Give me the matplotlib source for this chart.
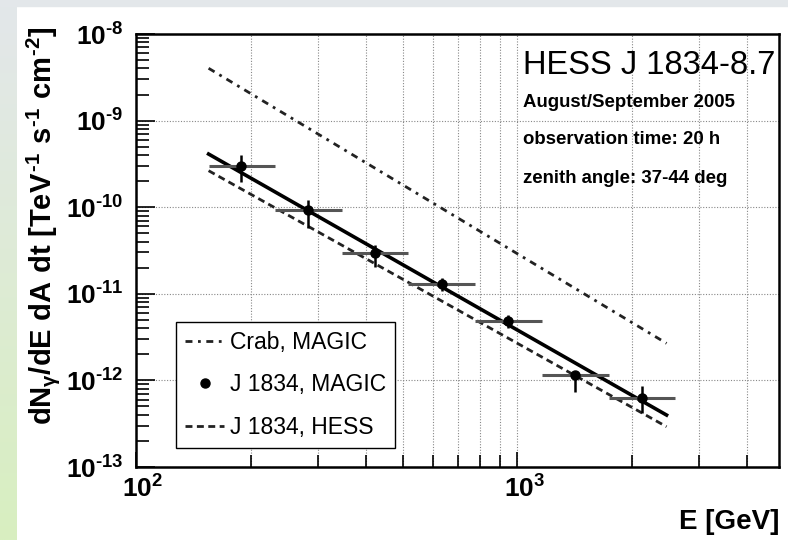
import numpy as np
import matplotlib
matplotlib.use('agg')
import matplotlib.pyplot as plt
import matplotlib.transforms as mtransforms
from matplotlib.ticker import FuncFormatter, LogLocator, NullFormatter
from matplotlib.patches import Rectangle

plt.rcParams['font.family'] = ['Liberation Sans', 'DejaVu Sans']
plt.rcParams['mathtext.fontset'] = 'custom'
plt.rcParams['mathtext.rm'] = 'Liberation Sans:bold'
plt.rcParams['mathtext.bf'] = 'Liberation Sans:bold'
plt.rcParams['mathtext.it'] = 'Liberation Sans:bold'

# MAGIC spectral points of J 1834 (GeV, TeV^-1 s^-1 cm^-2)
energy = [188, 282, 424, 634, 942, 1417, 2119]
e_low = [155, 232, 346, 518, 775, 1159, 1735]
e_high = [232, 346, 518, 775, 1159, 1735, 2595]
flux = [2.99e-10, 9.3e-11, 2.94e-11, 1.30e-11, 4.85e-12, 1.15e-12, 6.3e-13]
flux_hi = [4.0e-10, 1.21e-10, 3.66e-11, 1.52e-11, 5.69e-12, 1.26e-12, 8.6e-13]
flux_lo = [1.97e-10, 5.75e-11, 2.06e-11, 1.09e-11, 4.03e-12, 7.4e-13, 4.2e-13]

# power-law spectra, flux at the two ends of the drawn range
line_e = [155, 2460]
crab_magic = [4.02e-9, 2.68e-12]
j1834_fit = [4.11e-10, 3.98e-13]
j1834_hess = [2.64e-10, 2.92e-13]

W, H = 788, 540
fig = plt.figure(figsize=(W / 100, H / 100), dpi=100)
fig.patch.set_facecolor('white')

# slide border: grey strip on top, grey-to-green strip on the left
fig.patches.append(Rectangle((0, 1 - 6 / H), 1, 6 / H, transform=fig.transFigure,
                             color='#e3e7ea', zorder=0))
bg = fig.add_axes([0, 0, 17 / W, 1 - 6 / H])
grad = np.linspace(0, 1, 256)[:, None, None]
top_c = np.array([0xe3, 0xe7, 0xea]) / 255
bot_c = np.array([0xd8, 0xef, 0xc0]) / 255
bg.imshow(top_c * (1 - grad) + bot_c * grad, aspect='auto')
bg.axis('off')

x0, x1, y0, y1 = 136, 779, 34, 467
ax = fig.add_axes([x0 / W, 1 - y1 / H, (x1 - x0) / W, (y1 - y0) / H])
ax.set_xscale('log')
ax.set_yscale('log')
ax.set_xlim(100, 4850)
ax.set_ylim(1e-13, 1e-8)

ax.yaxis.set_major_locator(LogLocator(base=10, numticks=20))
ax.yaxis.set_minor_locator(LogLocator(base=10, subs=np.arange(2, 10), numticks=20))
ax.yaxis.set_minor_formatter(NullFormatter())
ax.xaxis.set_minor_formatter(NullFormatter())
fmt = FuncFormatter(lambda v, p: r'$10^{\text{%d}}$' % int(round(np.log10(v))))
ax.xaxis.set_major_formatter(fmt)
ax.yaxis.set_major_formatter(fmt)

ax.grid(True, which='both', axis='x', ls=(0, (1, 1.5)), color='#888888', lw=0.8)
ax.grid(True, which='major', axis='y', ls=(0, (1, 1.5)), color='#888888', lw=0.8)

ax.tick_params(which='both', direction='in', top=False, right=False, width=1.2,
               colors='black', labelsize=19)
ax.tick_params(axis='y', which='major', length=14, pad=9)
ax.tick_params(axis='y', which='minor', length=9)
ax.tick_params(axis='x', which='major', length=11, pad=6)
ax.tick_params(axis='x', which='minor', length=9)
for s in ax.spines.values():
    s.set_linewidth(1.8)

# spectra
ax.plot(line_e, crab_magic, color='#222222', lw=2.0, ls=(0, (2.5, 2, 1, 2)),
        label='Crab, MAGIC')
ax.plot(line_e, j1834_fit, color='black', lw=2.6)
ax.plot(line_e, j1834_hess, color='#222222', lw=2.0, ls=(0, (2.5, 1.6)),
        label='J 1834, HESS')

# data points with energy bins and flux errors
flux_a = np.array(flux)
en_a = np.array(energy)
ax.errorbar(energy, flux, xerr=[en_a - np.array(e_low), np.array(e_high) - en_a],
            fmt='none', ecolor='#555555', elinewidth=2.2, capsize=0)
ax.errorbar(energy, flux, yerr=[flux_a - np.array(flux_lo), np.array(flux_hi) - flux_a],
            fmt='none', ecolor='black', elinewidth=1.8, capsize=0)
ax.plot(energy, flux, 'o', color='black', ms=6.5, label='J 1834, MAGIC')

h, l = ax.get_legend_handles_labels()
order = [l.index('Crab, MAGIC'), l.index('J 1834, MAGIC'), l.index('J 1834, HESS')]
leg = ax.legend([h[i] for i in order], [l[i] for i in order], loc='lower left',
                bbox_to_anchor=((176 - x0) / (x1 - x0), (y1 - 448) / (y1 - y0)),
                borderaxespad=0, fontsize=16.5, fancybox=False, framealpha=1,
                edgecolor='black', handlelength=1.7, handletextpad=0.25,
                labelspacing=0.85, borderpad=0.4)
leg.get_frame().set_linewidth(1.0)

ax.set_xlabel('E [GeV]', fontsize=20, fontweight='bold', ha='right')
ax.xaxis.set_label_coords(1.0, -0.098)
ax.set_ylabel(r'$dN_{\gamma}/dE\ dA\ dt\ [TeV^{\text{-1}}\ s^{\text{-1}}\ cm^{\text{-2}}]$',
              fontsize=21)
ax.yaxis.set_label_coords(-0.145, 0.556)
ax.yaxis.label.set_va('center')

def px(x, y):
    return x / W, 1 - y / H

fig.text(*px(523, 74), 'HESS J 1834-8.7', fontsize=23.5, va='baseline')
fig.text(*px(523, 107), 'August/September 2005', fontsize=13.4, fontweight='bold', va='baseline')
fig.text(*px(523, 144), 'observation time: 20 h', fontsize=13.4, fontweight='bold', va='baseline')
fig.text(*px(523, 183), 'zenith angle: 37-44 deg', fontsize=13.4, fontweight='bold', va='baseline')

shift = mtransforms.ScaledTranslation(7 / 100, 0, fig.dpi_scale_trans)
for lab in ax.get_xticklabels():
    lab.set_transform(lab.get_transform() + shift)

fig.savefig('out.png', dpi=100)
